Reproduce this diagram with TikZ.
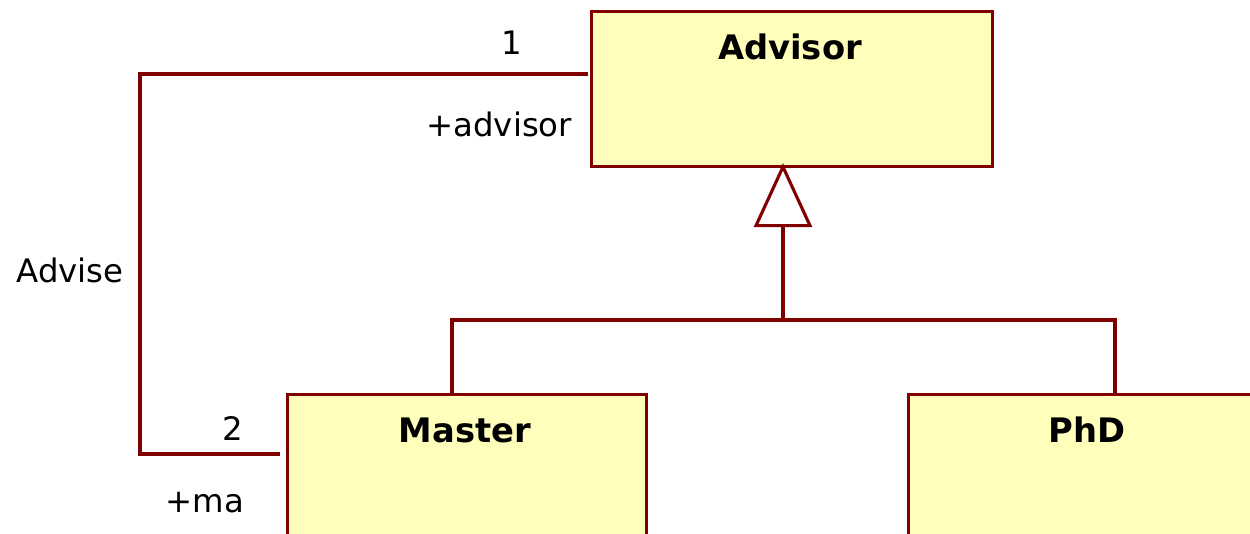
\documentclass[tikz,border=0pt]{standalone}
\usepackage{fontspec}
\setmainfont{DejaVu Sans}
\usetikzlibrary{arrows.meta}
\usetikzlibrary{positioning}

\definecolor{umlred}{RGB}{128,0,0}
\definecolor{umlfill}{RGB}{255,255,187}

\tikzset{
  umlclass/.style={draw=umlred, fill=umlfill, line width=2.2pt, rectangle,
    anchor=north west, inner sep=0pt},
  classname/.style={font=\fontsize{24}{28}\selectfont\bfseries, anchor=center},
  role/.style={font=\fontsize{23}{27}\selectfont},
  link/.style={draw=umlred, line width=2.2pt},
}

\begin{document}
\begin{tikzpicture}[x=0.025cm, y=-0.025cm]
        \useasboundingbox (0,0) rectangle (1250,533);
        \clip (0,0) rectangle (1250,533);

        % classes
        \node[umlclass, minimum width=10.02cm, minimum height=3.87cm] (advisor) at (590,10) {};
        \node[umlclass, minimum width=8.97cm, minimum height=5cm] (master) at (286,393) {};
        \node[umlclass, minimum width=9.6cm, minimum height=5cm] (phd) at (907,393) {};

        \node[classname] (advisorname) at (790,47) {Advisor};
        \node[classname] (mastername) at (465,430) {Master};
        \node[classname] (phdname) at (1087,430) {PhD};

        % generalization
        \coordinate (fork) at (783,320);
        \draw[link] (master.north -| 452,0) |- (fork) -| (phd.north -| 1115,0);
        \draw[link, -{Triangle[open, fill=white, length=1.6cm, width=1.45cm]}]
              (fork) -- ([yshift=0.12cm]advisor.south -| fork);

        % association
        \draw[link] ([xshift=-0.06cm]advisor.north west |- 0,74) -| (140,454)
              -- ([xshift=-0.14cm]master.north west |- 0,454);

        \node[role] (mult1) at (512,43) {1};
        \node[role, anchor=east] (roleadv) at (577,124) {+advisor};
        \node[role] (assocname) at (70,270) {Advise};
        \node[role] (mult2) at (233,428) {2};
        \node[role] (rolema) at (205,503) {+ma};
    \end{tikzpicture}
\end{document}
